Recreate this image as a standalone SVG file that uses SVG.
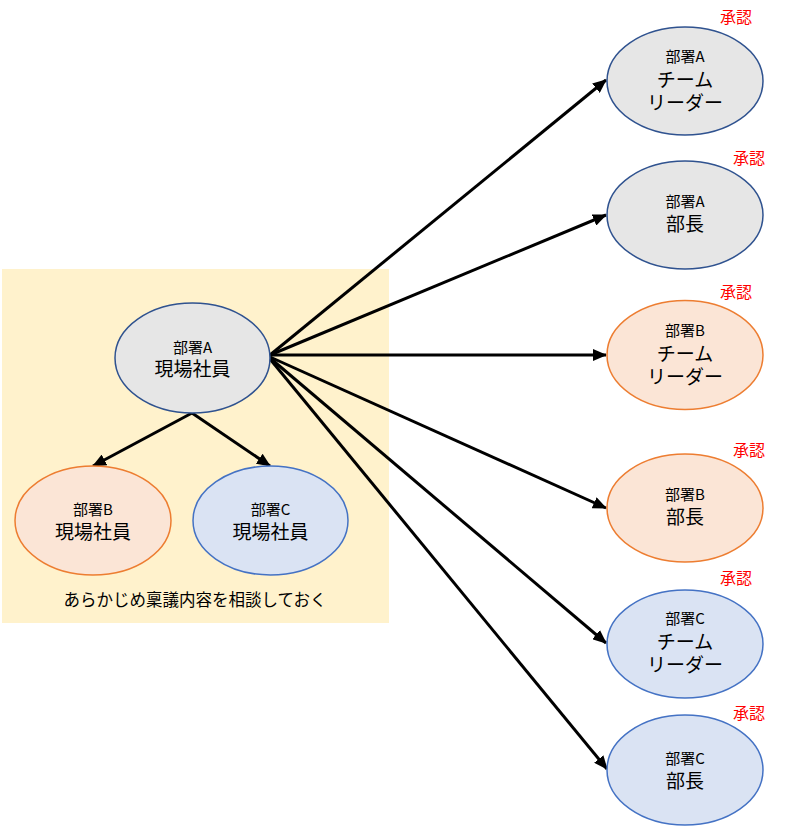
<svg xmlns="http://www.w3.org/2000/svg" width="800" height="827" viewBox="0 0 800 827">
<defs>
<marker id="ah" markerUnits="userSpaceOnUse" markerWidth="14" markerHeight="12" viewBox="0 0 14 12" refX="13" refY="6" orient="auto">
<path d="M0,0 L14,6 L0,12 z" fill="#000"/>
</marker>
<style>
text{font-family:"Noto Sans CJK JP","Liberation Sans",sans-serif;fill:#000;text-anchor:middle}
.s{font-size:15px}
.l{font-size:19px}
.r{font-size:16px;fill:#ff0000}
.gray{fill:#e6e6e6;stroke:#2f528f;stroke-width:1.5}
.org{fill:#fbe5d6;stroke:#ed7d31;stroke-width:1.5}
.blu{fill:#dae3f3;stroke:#4472c4;stroke-width:1.5}
.c{stroke:#000;stroke-width:3;fill:none;marker-end:url(#ah)}
</style>
</defs>
<rect x="2" y="269" width="387" height="354" fill="#fff2cc"/>
<text x="195" y="606" style="font-size:16.5px">あらかじめ稟議内容を相談しておく</text>
<g id="connectors">
<line class="c" x1="270" y1="355" x2="606" y2="80"/>
<line class="c" x1="270" y1="355" x2="606" y2="215"/>
<line class="c" x1="270" y1="355" x2="606" y2="355"/>
<line class="c" x1="270" y1="357" x2="606" y2="508"/>
<line class="c" x1="270" y1="358" x2="606" y2="643"/>
<line class="c" x1="270" y1="359" x2="607" y2="769"/>
<line class="c" x1="192" y1="413" x2="93" y2="466"/>
<line class="c" x1="192" y1="413" x2="270" y2="466"/>
</g>
<g id="nodeA">
<ellipse class="gray" cx="192.5" cy="358" rx="77.5" ry="55"/>
<text class="s" x="192.5" y="353">部署A</text>
<text class="l" x="192.5" y="376">現場社員</text>
</g>
<g id="nodeB">
<ellipse class="org" cx="93" cy="520.5" rx="78" ry="54.5"/>
<text class="s" x="93" y="515">部署B</text>
<text class="l" x="93" y="539">現場社員</text>
</g>
<g id="nodeC">
<ellipse class="blu" cx="270.5" cy="520.5" rx="77.5" ry="54.5"/>
<text class="s" x="270.5" y="515">部署C</text>
<text class="l" x="270.5" y="539">現場社員</text>
</g>
<g id="r1">
<ellipse class="gray" cx="685" cy="81" rx="78" ry="54"/>
<text class="s" x="685" y="62">部署A</text>
<text class="l" x="685" y="87">チーム</text>
<text class="l" x="685" y="110">リーダー</text>
<text class="r" x="736" y="23">承認</text>
</g>
<g id="r2">
<ellipse class="gray" cx="685" cy="215" rx="78" ry="54"/>
<text class="s" x="685" y="207">部署A</text>
<text class="l" x="685" y="231">部長</text>
<text class="r" x="749" y="164">承認</text>
</g>
<g id="r3">
<ellipse class="org" cx="685" cy="355" rx="78" ry="54.5"/>
<text class="s" x="685" y="336">部署B</text>
<text class="l" x="685" y="361">チーム</text>
<text class="l" x="685" y="384">リーダー</text>
<text class="r" x="736" y="298">承認</text>
</g>
<g id="r4">
<ellipse class="org" cx="685" cy="508" rx="78" ry="54"/>
<text class="s" x="685" y="500">部署B</text>
<text class="l" x="685" y="524">部長</text>
<text class="r" x="749" y="456">承認</text>
</g>
<g id="r5">
<ellipse class="blu" cx="685" cy="644" rx="78" ry="54"/>
<text class="s" x="685" y="624">部署C</text>
<text class="l" x="685" y="649">チーム</text>
<text class="l" x="685" y="672">リーダー</text>
<text class="r" x="736" y="584">承認</text>
</g>
<g id="r6">
<ellipse class="blu" cx="685" cy="770" rx="78" ry="55"/>
<text class="s" x="685" y="764">部署C</text>
<text class="l" x="685" y="788">部長</text>
<text class="r" x="749" y="719">承認</text>
</g>
</svg>
